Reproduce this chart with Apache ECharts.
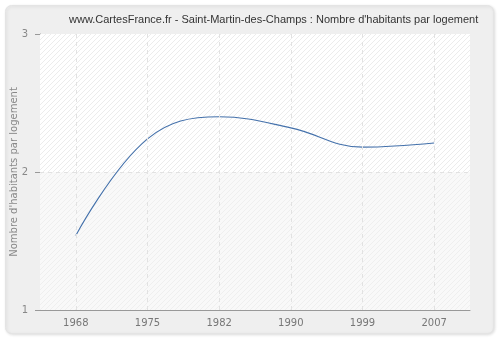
<!DOCTYPE html>
<html>
<head>
<meta charset="utf-8">
<script src="https://cdn.jsdelivr.net/npm/echarts@6/dist/echarts.min.js"></script>
<style>
  html, body { margin: 0; padding: 0; background: #ffffff; }
  #chart { width: 500px; height: 340px; }
</style>
</head>
<body>
<div id="chart"></div>
<script>
// Census years and average number of inhabitants per dwelling
var years = ['1968', '1975', '1982', '1990', '1999', '2007'];
var habitantsParLogement = [1.54, 2.24, 2.40, 2.32, 2.18, 2.21];
var yTicks = [1, 2, 3];

// Diagonal hatch used as the plot background
function hatch(base, stroke) {
  var n = 5;
  var c = document.createElement('canvas');
  c.width = n; c.height = n;
  var g = c.getContext('2d');
  g.fillStyle = base;
  g.fillRect(0, 0, n, n);
  g.strokeStyle = stroke;
  g.lineWidth = 1;
  g.beginPath();
  g.moveTo(-1, n + 1); g.lineTo(n + 1, -1);
  g.moveTo(-n - 1, 1); g.lineTo(1, -n - 1);
  g.moveTo(n - 1, 2 * n + 1); g.lineTo(2 * n + 1, n - 1);
  g.stroke();
  return { image: c, repeat: 'repeat' };
}

var chart = echarts.init(document.getElementById('chart'), null, { renderer: 'canvas' });

chart.setOption({
  animation: false,
  backgroundColor: '#ffffff',
  title: {
    text: "www.CartesFrance.fr - Saint-Martin-des-Champs : Nombre d'habitants par logement",
    left: 64,
    top: 9,
    textStyle: { fontFamily: 'Liberation Sans', fontSize: 11, fontWeight: 'normal', color: '#333333' }
  },
  graphic: [{
    type: 'rect',
    z: -10,
    shape: { x: 5.5, y: 5.5, width: 488, height: 328, r: 6 },
    style: {
      fill: '#efefef', stroke: '#e4e4e4', lineWidth: 1,
      shadowColor: 'rgba(0,0,0,0.12)', shadowBlur: 3, shadowOffsetX: 1, shadowOffsetY: 1
    }
  }],
  grid: { left: 40, right: 30, top: 34, bottom: 30, containLabel: false, outerBoundsMode: 'none' },
  xAxis: {
    type: 'category',
    data: years,
    boundaryGap: true,
    axisLine: { lineStyle: { color: '#999999' } },
    axisTick: { alignWithLabel: true, length: 5, lineStyle: { color: '#999999' } },
    axisLabel: { color: '#777777', fontFamily: 'DejaVu Sans', fontSize: 10, margin: 8 },
    splitLine: { show: false }
  },
  yAxis: {
    type: 'value',
    min: yTicks[0],
    max: yTicks[yTicks.length - 1],
    interval: 1,
    name: "Nombre d'habitants par logement",
    nameLocation: 'middle',
    nameGap: 21,
    nameMoveOverlap: false,
    nameTextStyle: { color: '#888888', fontFamily: 'DejaVu Sans', fontSize: 10 },
    axisLine: { show: true, lineStyle: { color: '#999999' } },
    axisTick: { show: true, length: 5, lineStyle: { color: '#999999' } },
    axisLabel: { color: '#888888', fontFamily: 'DejaVu Sans', fontSize: 10, margin: 12 },
    splitLine: { show: false }
  },
  series: [{
    type: 'line',
    data: habitantsParLogement,
    smooth: 0.4,
    symbol: 'none',
    lineStyle: { color: '#4471ab', width: 1.1 },
    markArea: {
      silent: true,
      data: [
        [{ yAxis: 2, itemStyle: { color: hatch('#ffffff', '#ececec') } }, { yAxis: 3 }],
        [{ yAxis: 1, itemStyle: { color: hatch('#f9f9f9', '#efefef') } }, { yAxis: 2 }]
      ]
    },
    markLine: {
      silent: true,
      symbol: 'none',
      label: { show: false },
      lineStyle: { color: '#e2e2e2', type: [4, 4], width: 1 },
      data: years.map(function (y) { return { xAxis: y }; }).concat([{ yAxis: 2 }])
    }
  }]
});
</script>
</body>
</html>
